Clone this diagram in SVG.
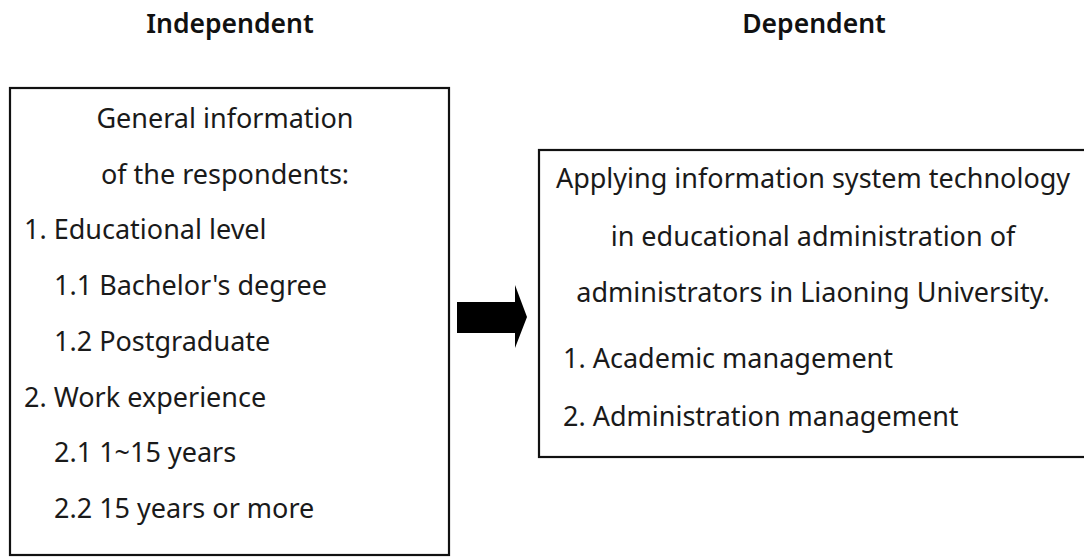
<svg xmlns="http://www.w3.org/2000/svg" width="1084" height="557" viewBox="0 0 1084 557">
<style>
.t{font-family:"Noto Sans","Open Sans","DejaVu Sans",sans-serif;font-size:27px;fill:#1a1a1a}
.h{font-family:"Noto Sans","Open Sans","DejaVu Sans",sans-serif;font-size:26.5px;font-weight:600;fill:#111}
.c{text-anchor:middle}
.box{fill:#fff;stroke:#111;stroke-width:2.2}
</style>
<rect width="1084" height="557" fill="#fff"/>
<g id="header-independent"><text class="h c" x="230" y="33">Independent</text></g>
<g id="header-dependent"><text class="h c" x="814" y="33">Dependent</text></g>
<g id="node-independent">
<rect class="box" x="10" y="88" width="439" height="467"/>
<text class="t c" x="225" y="128">General information</text>
<text class="t c" x="225" y="184">of the respondents:</text>
<text class="t" x="24" y="239">1. Educational level</text>
<text class="t" x="54" y="295">1.1 Bachelor's degree</text>
<text class="t" x="54" y="351">1.2 Postgraduate</text>
<text class="t" x="24" y="407">2. Work experience</text>
<text class="t" x="54" y="462">2.1 1~15 years</text>
<text class="t" x="54" y="518">2.2 15 years or more</text>
</g>
<g id="node-dependent">
<rect class="box" x="539" y="150" width="560" height="307"/>
<text class="t c" x="813" y="188">Applying information system technology</text>
<text class="t c" x="813" y="246">in educational administration of</text>
<text class="t c" x="813" y="302">administrators in Liaoning University.</text>
<text class="t" x="563" y="368">1. Academic management</text>
<text class="t" x="563" y="426">2. Administration management</text>
</g>
<g id="connectors">
<polygon points="457,302 515,302 515,285 527,317 515,348 515,333 457,333" fill="#000"/>
</g>
</svg>
